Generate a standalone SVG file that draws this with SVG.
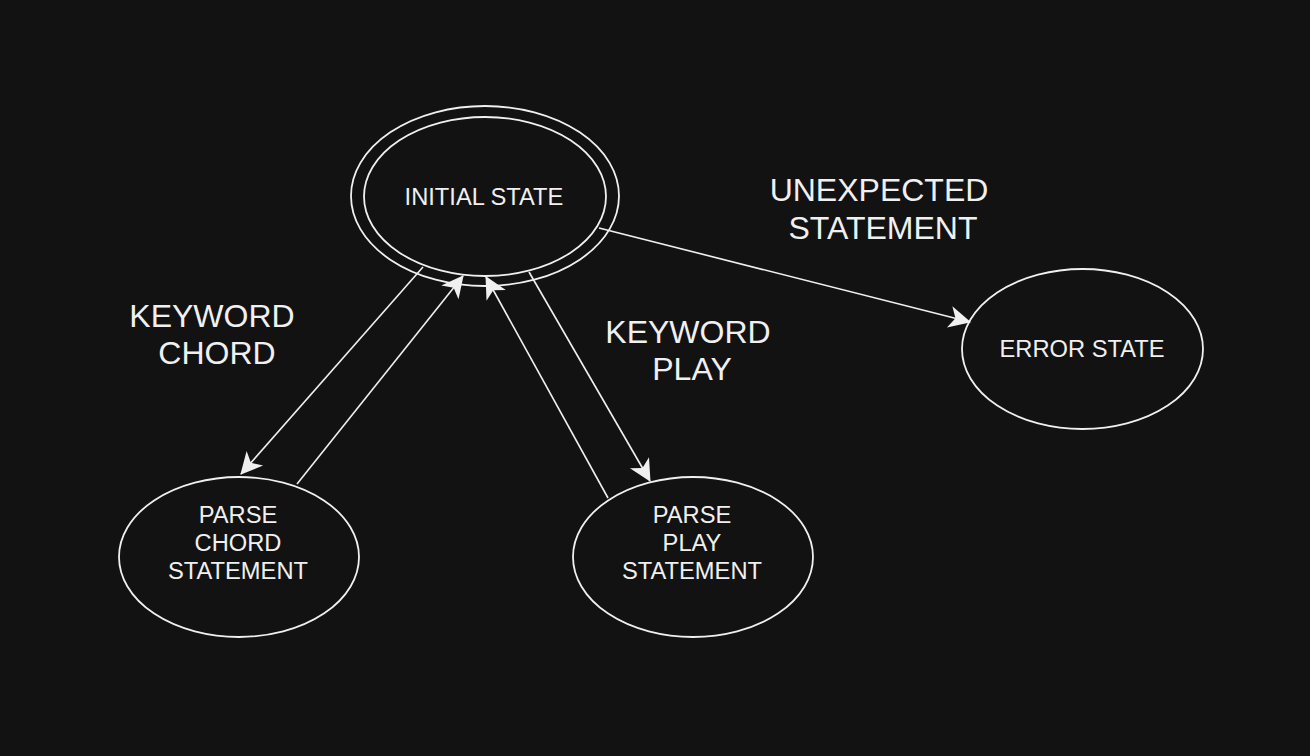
<svg xmlns="http://www.w3.org/2000/svg" width="1310" height="756" viewBox="0 0 1310 756">
<defs>
<style>
.n{fill:none;stroke:#f0f0f0;stroke-width:1.8}
.e{fill:none;stroke:#f0f0f0;stroke-width:1.6}
.t{fill:#f0f0f0;font-family:"Liberation Sans",Arial,sans-serif;font-size:23.7px;text-anchor:middle}
.l{fill:#f0f0f0;font-family:"Liberation Sans",Arial,sans-serif;font-size:32px;text-anchor:middle}
</style>
<marker id="a" viewBox="0 0 22 22" refX="21" refY="11" markerWidth="22" markerHeight="22" markerUnits="userSpaceOnUse" orient="auto" overflow="visible">
<path d="M0,0 L22,11 L0,22 L6,11 Z" fill="#f0f0f0"/>
</marker>
</defs>
<rect width="1310" height="756" fill="#121212"/>
<g id="connectors">
<line class="e" x1="423" y1="267" x2="241" y2="474" marker-end="url(#a)"/>
<line class="e" x1="297" y1="484" x2="463" y2="276" marker-end="url(#a)"/>
<line class="e" x1="608" y1="498" x2="486" y2="277" marker-end="url(#a)"/>
<line class="e" x1="529" y1="272" x2="650" y2="481" marker-end="url(#a)"/>
<line class="e" x1="599" y1="228" x2="970" y2="322" marker-end="url(#a)"/>
</g>
<g id="initial">
<ellipse class="n" cx="485" cy="196" rx="134" ry="90"/>
<ellipse class="n" cx="485" cy="196.5" rx="121" ry="79.5"/>
<text class="t" x="484" y="204.5">INITIAL STATE</text>
</g>
<g id="error">
<ellipse class="n" cx="1082.5" cy="349" rx="120.5" ry="80"/>
<text class="t" x="1082" y="356.5">ERROR STATE</text>
</g>
<g id="chord">
<ellipse class="n" cx="239" cy="557" rx="120" ry="80"/>
<text class="t" x="238" y="522.5">PARSE</text>
<text class="t" x="238" y="550.5">CHORD</text>
<text class="t" x="238" y="578.5">STATEMENT</text>
</g>
<g id="play">
<ellipse class="n" cx="693" cy="557" rx="120" ry="80"/>
<text class="t" x="692" y="522.5">PARSE</text>
<text class="t" x="692" y="550.5">PLAY</text>
<text class="t" x="692" y="578.5">STATEMENT</text>
</g>
<g id="labels">
<text class="l" x="212" y="327">KEYWORD</text>
<text class="l" x="217" y="364">CHORD</text>
<text class="l" x="688" y="343">KEYWORD</text>
<text class="l" x="692" y="380">PLAY</text>
<text class="l" x="879" y="201">UNEXPECTED</text>
<text class="l" x="883" y="239">STATEMENT</text>
</g>
</svg>
